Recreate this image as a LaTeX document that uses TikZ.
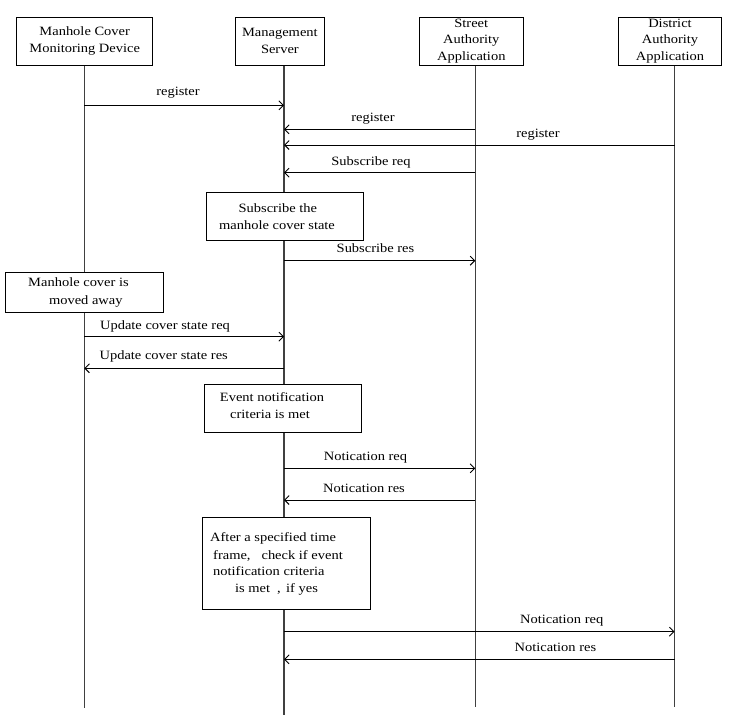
\documentclass[tikz,border=0pt]{standalone}
\usepackage{fontspec}
\setmainfont{Liberation Serif}[FakeStretch=1.14]
\usetikzlibrary{arrows.meta}
\tikzset{
  actor/.style={draw=black, line width=0.9pt, fill=white, minimum width=#1, minimum height=48pt, inner sep=0pt, align=center},
  lifeline/.style={draw=black!75, line width=1.3pt},
  msg/.style={draw=black, line width=0.9pt, -{Straight Barb[length=4.5pt,width=9pt,line width=0.9pt]}},
  lbl/.style={anchor=base, inner sep=0pt},
  lbll/.style={anchor=base west, inner sep=0pt},
  note/.style={draw=black, line width=0.9pt, fill=white, inner sep=0pt}
}
\begin{document}
\begin{tikzpicture}[x=1pt,y=-1pt,font={\fontsize{12.7pt}{16.5pt}\selectfont}]
\fill[white] (0,0) rectangle (734,724);
\useasboundingbox (0,0) rectangle (734,724);

% lifeline end points
\coordinate (t1) at (84.3,65);  \coordinate (e1) at (84.3,708);
\coordinate (t2) at (284,65);   \coordinate (e2) at (284,715);
\coordinate (t3) at (475.3,65); \coordinate (e3) at (475.3,707);
\coordinate (t4) at (674.5,65); \coordinate (e4) at (674.5,707);

\draw[lifeline] (t1) -- (e1);
\draw[lifeline] (t2) -- (e2);
\draw[lifeline] (t3) -- (e3);
\draw[lifeline] (t4) -- (e4);

% actors
\node[actor=136pt] (dev) at (84.7,41) {Manhole Cover\\Monitoring Device};
\node[actor=88.3pt] (srv) at (279.9,41) {Management\\Server};
\node[actor=104pt] (str) at (471.3,41) {Street\\Authority\\Application};
\node[actor=103.4pt] (dis) at (670,41) {District\\Authority\\Application};

% messages
\draw[msg] (t1 |- 0,105.3) -- (t2 |- 0,105.3);
\node[lbl] (m1) at (178,95.5) {register};
\draw[msg] (t3 |- 0,129.3) -- (t2 |- 0,129.3);
\node[lbl] (m2) at (373,121) {register};
\draw[msg] (t4 |- 0,145) -- (t2 |- 0,145);
\node[lbl] (m3) at (538,137) {register};
\draw[msg] (t3 |- 0,172.7) -- (t2 |- 0,172.7);
\node[lbl] (m4) at (371,165) {Subscribe req};

% note 1
\node[note, minimum width=157.3pt, minimum height=48.4pt] (n1) at (284.65,216.5) {};
\node[lbl] (n1a) at (277.8,212.7) {Subscribe the};
\node[lbl] (n1b) at (277,229.3) {manhole cover state};

\draw[msg] (t2 |- 0,260.7) -- (t3 |- 0,260.7);
\node[lbl] (m5) at (375.5,252.7) {Subscribe res};

% note 2
\node[note, minimum width=158pt, minimum height=40pt] (n2) at (84.3,292.3) {};
\node[lbl] (n2a) at (78.5,286.7) {Manhole cover is};
\node[lbl] (n2b) at (85.8,304) {moved away};

\draw[msg] (t1 |- 0,336.7) -- (t2 |- 0,336.7);
\node[lbl] (m6) at (165,329) {Update cover state req};
\draw[msg] (t2 |- 0,368.3) -- (t1 |- 0,368.3);
\node[lbl] (m7) at (163.7,359.5) {Update cover state res};

% note 3
\node[note, minimum width=157.7pt, minimum height=48pt] (n3) at (282.85,408.3) {};
\node[lbl] (n3a) at (272,401.7) {Event notification};
\node[lbl] (n3b) at (270,418) {criteria is met};

\draw[msg] (t2 |- 0,468.3) -- (t3 |- 0,468.3);
\node[lbl] (m8) at (365.5,460.7) {Notication req};
\draw[msg] (t3 |- 0,500) -- (t2 |- 0,500);
\node[lbl] (m9) at (364,492) {Notication res};

% note 4
\node[note, minimum width=168.7pt, minimum height=92pt] (n4) at (286.35,563.7) {};
\node[lbll] (n4a) at (210,541.7) {After a specified time};
\node[lbll] (n4b) at (213,559) {frame,\hspace{11pt}check if event};
\node[lbll] (n4c) at (213,575.7) {notification criteria};
\node[lbll] (n4d) at (235,592.3) {is met\hspace{7pt},\hspace{5.4pt}if yes};

\draw[msg] (t2 |- 0,631.7) -- (t4 |- 0,631.7);
\node[lbl] (m10) at (561.7,623.3) {Notication req};
\draw[msg] (t4 |- 0,659.3) -- (t2 |- 0,659.3);
\node[lbl] (m11) at (555.4,651) {Notication res};
\end{tikzpicture}
\end{document}
